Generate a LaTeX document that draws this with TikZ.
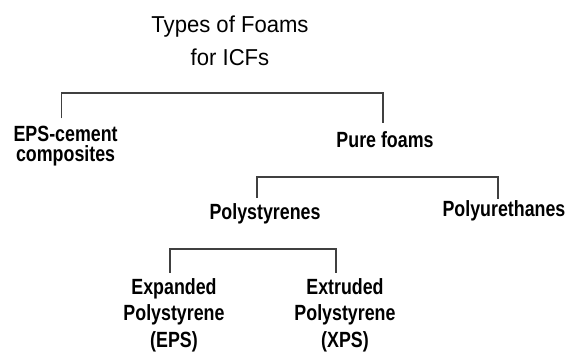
\documentclass[tikz,border=0pt]{standalone}
\usepackage{fontspec}
\newfontfamily\labfont[FakeStretch=0.81]{Liberation Sans Bold}
\newfontfamily\ttlfont[FakeStretch=0.96]{Liberation Sans}
\begin{document}
\begin{tikzpicture}[x=1pt,y=-1pt,
  lab/.style={align=center,inner sep=0pt,anchor=base},
  conn/.style={draw=black!75,line width=1.1pt}]
\useasboundingbox[fill=white] (0,0) rectangle (567,352);
\node[lab,font={\ttlfont\fontsize{23}{33}\selectfont}] (title) at (230,66) {Types of Foams\\for ICFs};
\node[lab,font={\labfont\fontsize{22}{20}\selectfont}] (ecc) at (65.6,162) {EPS-cement\\composites};
\node[lab,font={\labfont\fontsize{22}{22}\selectfont}] (pure) at (385,148) {Pure foams};
\node[lab,font={\labfont\fontsize{22}{22}\selectfont}] (polys) at (265,220) {Polystyrenes};
\node[lab,font={\labfont\fontsize{22}{22}\selectfont}] (polyu) at (504,217) {Polyurethanes};
\node[lab,font={\labfont\fontsize{22}{26.5}\selectfont}] (exp) at (174,347) {Expanded\\Polystyrene\\(EPS)};
\node[lab,font={\labfont\fontsize{22}{26.5}\selectfont}] (ext) at (345,347) {Extruded\\Polystyrene\\(XPS)};
\coordinate (b1) at (383,93);
\coordinate (b2) at (498,177);
\coordinate (b3) at (336,249);
\draw[conn,shorten <=8pt,shorten >=9pt] ([xshift=-4pt]ecc.north) |- (b1) -| ([xshift=-2pt]pure.north);
\draw[conn,shorten <=6pt,shorten >=2pt] ([xshift=-8pt]polys.north) |- (b2) -| ([xshift=-6pt]polyu.north);
\draw[conn,shorten <=5pt,shorten >=5pt] ([xshift=-4pt]exp.north) |- (b3) -| ([xshift=-9pt]ext.north);
\end{tikzpicture}
\end{document}
